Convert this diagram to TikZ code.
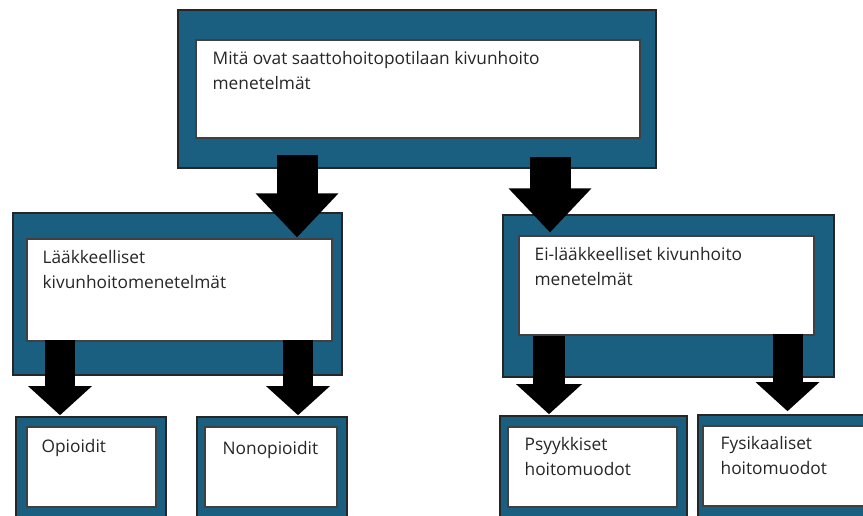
\documentclass[tikz,border=0pt]{standalone}
\usepackage{fontspec}
\setmainfont{Open Sans}
\usetikzlibrary{arrows.meta,positioning,calc}
\definecolor{boxblue}{RGB}{26,94,128}
\tikzset{
	outbox/.style={draw=black!85,fill=boxblue,line width=1.6pt,inner sep=0},
	inbox/.style={draw=black!75,fill=white,line width=1.1pt,inner sep=0},
	lbl/.style={anchor=north west,inner sep=0,align=left,text=black!85,
		font=\fontsize{17.3}{25}\selectfont},
	bigarrow/.style={line width=41pt,-{Triangle[width=80pt,length=44pt]}},
	smallarrow/.style={line width=30pt,-{Triangle[width=62pt,length=29pt]}}
}
\begin{document}
\begin{tikzpicture}[x=1pt,y=-1pt]
	\useasboundingbox[fill=white] (0,0) rectangle (863,516);
	% boxes
	\node [outbox,minimum width=478,minimum height=158] at (417,89) (topout) {};
	\node [inbox,minimum width=444,minimum height=98] at (418,89) (topin) {};
	\node [lbl] at ([shift={(17,12)}]topin.north west) (toptxt) {Mitä ovat saattohoitopotilaan kivunhoito\\menetelmät};

	\node [outbox,minimum width=329,minimum height=162] at (177.5,294) (midLout) {};
	\node [inbox,minimum width=305,minimum height=102] at (179.5,290) (midLin) {};
	\node [lbl] at ([shift={(16,12)}]midLin.north west) (midLtxt) {Lääkkeelliset\\kivunhoitomenetelmät};

	\node [outbox,minimum width=331,minimum height=162] at (668.5,296) (midRout) {};
	\node [inbox,minimum width=295,minimum height=99] at (666.5,285.5) (midRin) {};
	\node [lbl] at ([shift={(16,12)}]midRin.north west) (midRtxt) {Ei-lääkkeelliset kivunhoito\\menetelmät};

	\node [outbox,minimum width=150,minimum height=110] at (91,472) (opiout) {};
	\node [inbox,minimum width=129,minimum height=80] at (91.5,467) (opiin) {};
	\node [lbl] at ([shift={(15,13)}]opiin.north west) (opitxt) {Opioidit};

	\node [outbox,minimum width=150,minimum height=110] at (272,472) (nonout) {};
	\node [inbox,minimum width=132,minimum height=80] at (271,467) (nonin) {};
	\node [lbl] at ([shift={(18,15)}]nonin.north west) (nontxt) {Nonopioidit};

	\node [outbox,minimum width=187,minimum height=112] at (593.5,472) (psyout) {};
	\node [inbox,minimum width=169,minimum height=80] at (592.5,467) (psyin) {};
	\node [lbl] at ([shift={(17,11)}]psyin.north west) (psytxt) {Psyykkiset\\hoitomuodot};

	\node [outbox,minimum width=190,minimum height=112] at (793,471) (fysout) {};
	\node [inbox,minimum width=180,minimum height=80] at (793,466) (fysin) {};
	\node [lbl] at ([shift={(18,11)}]fysin.north west) (fystxt) {Fysikaaliset\\hoitomuodot};

	% arrows
	\coordinate (s1) at ([shift={(-120,-14)}]topout.south);
	\coordinate (s2) at ([shift={(133,-12)}]topout.south);
	\draw [bigarrow] (s1) -- ($(s1 |- midLin.north)+(0,-1)$);
	\draw [bigarrow] (s2) -- ($(s2 |- midRin.north)+(0,-3)$);

	\coordinate (s3) at ([shift={(-119.5,-2)}]midLin.south);
	\coordinate (s4) at ([shift={(118.5,-2)}]midLin.south);
	\coordinate (s5) at ([shift={(-117.5,0)}]midRin.south);
	\coordinate (s6) at ([shift={(121,-2)}]midRin.south);
	\draw [smallarrow] (s3) -- ($(s3 |- opiout.north)+(0,-1)$);
	\draw [smallarrow] (s4) -- ($(s4 |- nonout.north)+(0,-1)$);
	\draw [smallarrow,line width=32pt,-{Triangle[width=64pt,length=30pt]}] (s5) -- ($(s5 |- psyout.north)+(0,-1)$);
	\draw [smallarrow] (s6) -- ($(s6 |- fysout.north)+(0,-3)$);
\end{tikzpicture}
\end{document}
